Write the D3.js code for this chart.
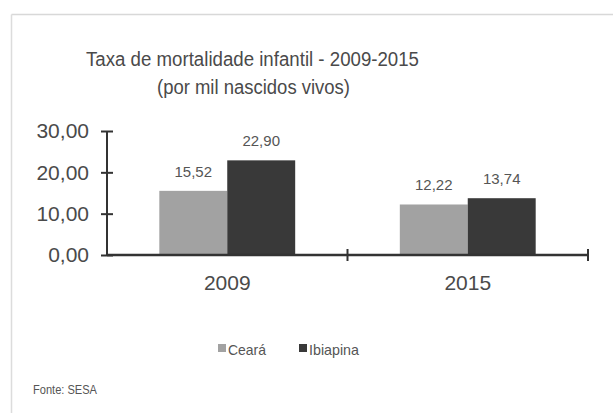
<!DOCTYPE html>
<html><head><meta charset="utf-8">
<script src="https://cdn.jsdelivr.net/npm/d3@7"></script>
<style>body{margin:0;background:#fff;}svg{display:block;}text{font-family:"Liberation Sans",Arial,sans-serif;}</style>
</head><body>
<svg id="c" width="613" height="413"></svg>
<script>
const categories = ["2009", "2015"];
const seriesNames = ["Ceará", "Ibiapina"];
const ceara = [15.52, 12.22];
const ibiapina = [22.90, 13.74];
const yTicks = [0, 10, 20, 30];
const colors = ["#a2a2a2", "#393939"];

const svg = d3.select("#c");
// frame
svg.append("line").attr("x1",11.5).attr("x2",613).attr("y1",14.5).attr("y2",14.5).attr("stroke","#d8d8d8").attr("stroke-width",1.5);
svg.append("line").attr("x1",11.5).attr("x2",11.5).attr("y1",14.5).attr("y2",413).attr("stroke","#dcdcdc").attr("stroke-width",1.5);

svg.append("text").attr("x",252.5).attr("y",66).attr("text-anchor","middle").attr("font-size",20).attr("fill","#4a4a4a")
  .attr("textLength",333).attr("lengthAdjust","spacingAndGlyphs").text("Taxa de mortalidade infantil - 2009-2015");
svg.append("text").attr("x",253.5).attr("y",94).attr("text-anchor","middle").attr("font-size",20).attr("fill","#4a4a4a")
  .attr("textLength",193).attr("lengthAdjust","spacingAndGlyphs").text("(por mil nascidos vivos)");

const left = 107, right = 588;
const y = d3.scaleLinear().domain([0,30]).range([255, 131]);
const x0 = d3.scaleBand().domain(categories).range([left, right]).padding(0);
const x1 = d3.scaleBand().domain(seriesNames).range([0, x0.bandwidth()]).paddingInner(0).paddingOuter(0.77);

const data = categories.map((c,i)=>({cat:c, vals:[ceara[i], ibiapina[i]]}));

const g = svg.append("g");
const groups = g.selectAll("g.grp").data(data).enter().append("g").attr("transform",d=>`translate(${x0(d.cat)},0)`);
groups.selectAll("rect").data(d=>d.vals.map((v,j)=>({name:seriesNames[j], v, j}))).enter().append("rect")
  .attr("x",d=>x1(d.name)).attr("width",x1.bandwidth())
  .attr("y",d=>y(d.v)).attr("height",d=>y(0)-y(d.v)).attr("fill",d=>colors[d.j]);
groups.selectAll("text.val").data(d=>d.vals.map((v,j)=>({name:seriesNames[j], v, j}))).enter().append("text")
  .attr("x",d=>x1(d.name)+x1.bandwidth()/2).attr("y",d=>y(d.v)-14)
  .attr("text-anchor","middle").attr("font-size",15).attr("fill","#555")
  .text(d=>d3.format(".2f")(d.v).replace(".",","));

// y axis
const yAxis = d3.axisLeft(y).tickValues(yTicks).tickSize(6).tickFormat(d=>d3.format(".2f")(d).replace(".",","));
const ya = svg.append("g").attr("transform",`translate(${left},0)`).call(yAxis);
ya.select(".domain").remove();
ya.append("line").attr("x1",0).attr("x2",0).attr("y1",y(30)).attr("y2",y(0)).attr("stroke","#333").attr("stroke-width",2);
ya.selectAll(".tick line").attr("x1",-6).attr("x2",6).attr("stroke","#333").attr("stroke-width",2);
ya.selectAll(".tick text").attr("x",-18).attr("font-size",21).attr("fill","#4a4a4a").attr("font-family","Liberation Sans, Arial, sans-serif");

// x axis
const xa = svg.append("g");
xa.append("line").attr("x1",left).attr("x2",right).attr("y1",y(0)).attr("y2",y(0)).attr("stroke","#333").attr("stroke-width",2.5);
const bounds = [left, ...categories.slice(1).map(c=>x0(c)), right];
xa.selectAll("line.tk").data(bounds.slice(1)).enter().append("line").attr("x1",d=>d).attr("x2",d=>d).attr("y1",y(0)-6).attr("y2",y(0)+6).attr("stroke","#333").attr("stroke-width",2);
xa.selectAll("text").data(categories).enter().append("text").attr("x",d=>x0(d)+x0.bandwidth()/2).attr("y",290).attr("text-anchor","middle").attr("font-size",21).attr("fill","#4a4a4a").text(d=>d);

// legend
const leg = svg.append("g");
const legX = [218, 299];
const legW = [38, 50];
seriesNames.forEach((n,i)=>{
  leg.append("rect").attr("x",legX[i]).attr("y",344).attr("width",8).attr("height",8).attr("fill",colors[i]);
  leg.append("text").attr("x",legX[i]+10).attr("y",355).attr("font-size",15).attr("fill","#555")
    .attr("textLength",legW[i]).attr("lengthAdjust","spacingAndGlyphs").text(n);
});

svg.append("text").attr("x",33).attr("y",394).attr("font-size",12).attr("fill","#555").attr("textLength",64).attr("lengthAdjust","spacingAndGlyphs").text("Fonte: SESA");
</script>
</body></html>
